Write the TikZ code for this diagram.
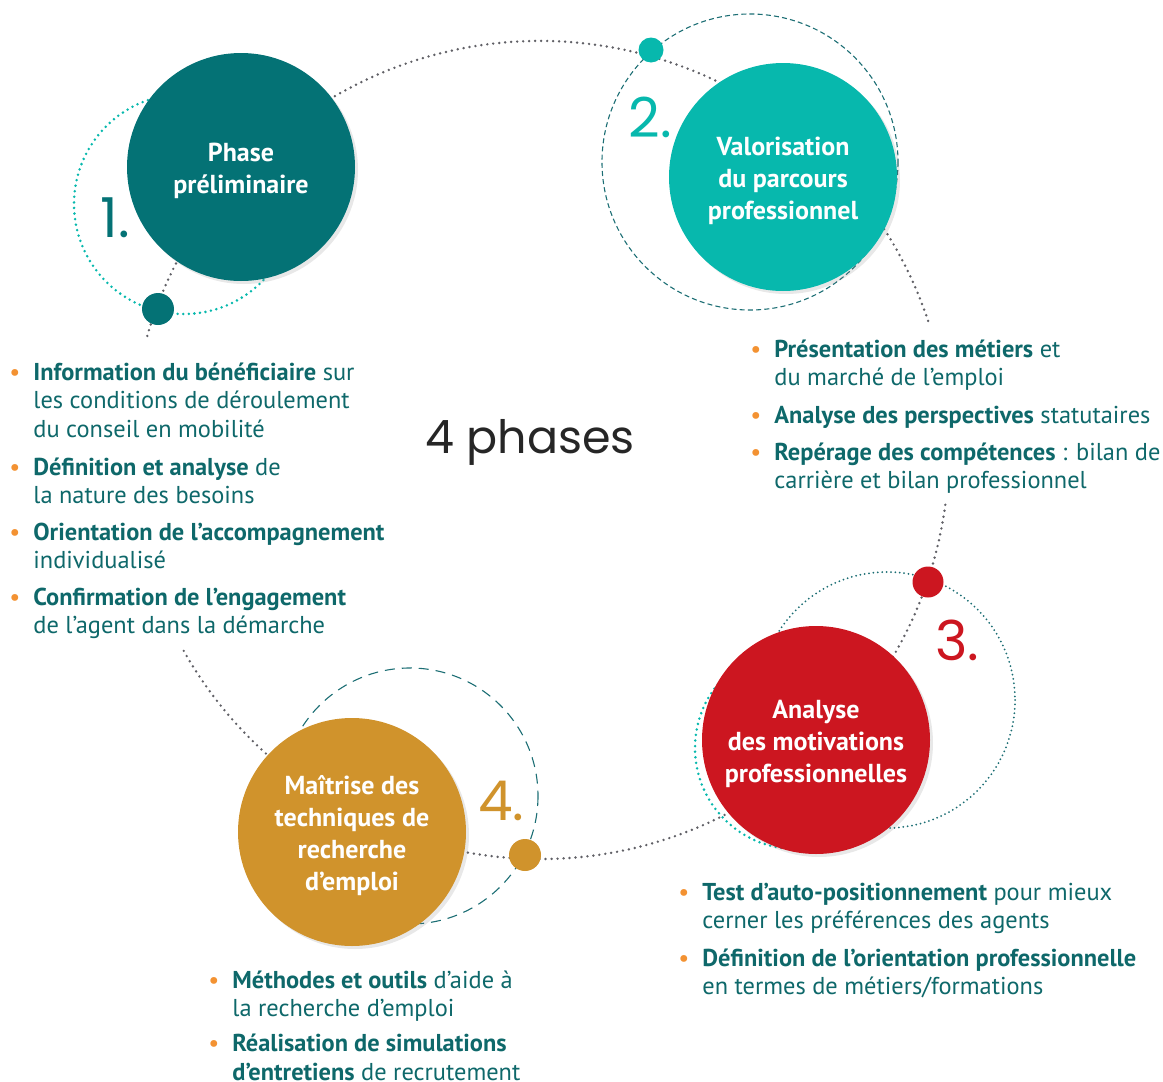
\documentclass[tikz,border=0pt]{standalone}
\usepackage{fontspec}
\setmainfont{PT Sans}
\newfontfamily\titlefont{Poppins}
\usetikzlibrary{shadows}

\definecolor{petrol}{RGB}{4,114,117}
\definecolor{lagoon}{RGB}{7,184,173}
\definecolor{crimson}{RGB}{204,22,32}
\definecolor{ochre}{RGB}{208,147,44}
\definecolor{inktext}{RGB}{14,104,106}
\definecolor{bulletorange}{RGB}{243,146,50}
\definecolor{dotgray}{RGB}{96,96,102}
\definecolor{ringteal}{RGB}{28,110,116}

\tikzset{
	phase/.style={circle, minimum size=114pt, inner sep=0pt, fill=#1, text=white, align=center,
		font=\fontsize{13}{16}\selectfont\bfseries,
		drop shadow={opacity=0.18, shadow xshift=1.5pt, shadow yshift=-1.5pt}},
	knot/.style={circle, minimum size=16pt, inner sep=0pt, fill=#1},
	phasenum/.style={anchor=base west, inner sep=0pt, text=#1, font=\titlefont\fontsize{27.5}{27.5}\selectfont},
	orbit/.style={dotgray, line width=1.35pt, line cap=round, dash pattern=on 0pt off 3pt},
	dotring/.style={#1, line width=1.4pt, line cap=round, dash pattern=on 0pt off 2.8pt},
	dashring/.style={ringteal, line width=0.55pt, dash pattern=#1},
	itemtext/.style={anchor=north west, inner sep=0pt, align=left, text=inktext,
		font=\fontsize{12.2}{14.25}\selectfont}
}
\newcommand{\puce}{\llap{\textcolor{bulletorange}{•}\hspace{6.5pt}}}
\newcommand{\haut}{\rule{0pt}{13.4pt}}

\begin{document}
\begin{tikzpicture}[x=0.5pt, y=-0.5pt]

	\useasboundingbox (0,0) rectangle (1163,1082);

	% grande orbite en pointillés
	\coordinate (hub) at (540,450);
	\draw[orbit] (hub) ++(7.7:409) arc[start angle=7.7, end angle=150.8, radius=409];
	\draw[orbit] (hub) ++(196.2:409) arc[start angle=196.2, end angle=342, radius=409];

	% anneaux
	\draw[dotring=lagoon] (184,204) circle[radius=110];
	\draw[dashring={on 2.5pt off 1.6pt}] (750,162) circle[radius=148];
	\draw[dotring=ringteal, line width=1pt, dash pattern=on 0pt off 2.2pt] (887,700) circle[radius=128];
	\draw[dotring=lagoon] (796,748) circle[radius=101];
	\draw[dashring={on 5pt off 3.5pt}] (410,796) circle[radius=128];

	% les 4 phases
	\node[phase=petrol] (prelim) at (241,167) {\haut Phase\\préliminaire};
	\node[phase=lagoon] (valor) at (783,177) {\haut Valorisation\\du parcours\\professionnel};
	\node[phase=crimson] (motiv) at (816,740) {\haut Analyse\\des motivations\\professionnelles};
	\node[phase=ochre] (maitrise) at (352,832) {\haut Maîtrise des\\techniques de\\recherche\\d’emploi};

	\node[knot=petrol] (knotA) at (158,309) {};
	\node[knot=lagoon, minimum size=12.5pt] (knotB) at (651,50) {};
	\node[knot=crimson, minimum size=15.5pt] (knotC) at (928,582) {};
	\node[knot=ochre] (knotD) at (525,855) {};

	\node[phasenum=petrol] (numA) at (100,237) {1.};
	\node[phasenum=lagoon] (numB) at (628,137) {2.};
	\node[phasenum=crimson] (numC) at (935,660) {3.};
	\node[phasenum=ochre] (numD) at (478,820) {4.};

	\node[anchor=base west, inner sep=0pt, text=black!85, font=\titlefont\fontsize{23}{23}\selectfont] (title) at (425,453) {4 phases};

	% textes
	\node[itemtext] (infoA) at (33,362.3) {\puce\textbf{Information du bénéficiaire} sur\\les conditions de déroulement\\du conseil en mobilité};
	\node[itemtext] (infoB) at (33,457.3) {\puce\textbf{Définition et analyse} de\\la nature des besoins};
	\node[itemtext] (infoC) at (33,522.3) {\puce\textbf{Orientation de l'accompagnement}\\individualisé};
	\node[itemtext] (infoD) at (33,587.3) {\puce\textbf{Confirmation de l’engagement}\\de l’agent dans la démarche};

	\node[itemtext] (valA) at (774,339.3) {\puce\textbf{Présentation des métiers} et\\du marché de l'emploi};
	\node[itemtext] (valB) at (774,405.3) {\puce\textbf{Analyse des perspectives} statutaires};
	\node[itemtext] (valC) at (774,442.3) {\puce\textbf{Repérage des compétences} : bilan de\\carrière et bilan professionnel};

	\node[itemtext] (motA) at (702,882.3) {\puce\textbf{Test d’auto-positionnement} pour mieux\\cerner les préférences des agents};
	\node[itemtext] (motB) at (702,948.3) {\puce\textbf{Définition de l’orientation professionnelle}\\en termes de métiers/formations};

	\node[itemtext] (maiA) at (232,970.3) {\puce\textbf{Méthodes et outils} d’aide à\\la recherche d’emploi};
	\node[itemtext] (maiB) at (232,1034) {\puce\textbf{Réalisation de simulations}\\\textbf{d’entretiens} de recrutement};

\end{tikzpicture}
\end{document}
